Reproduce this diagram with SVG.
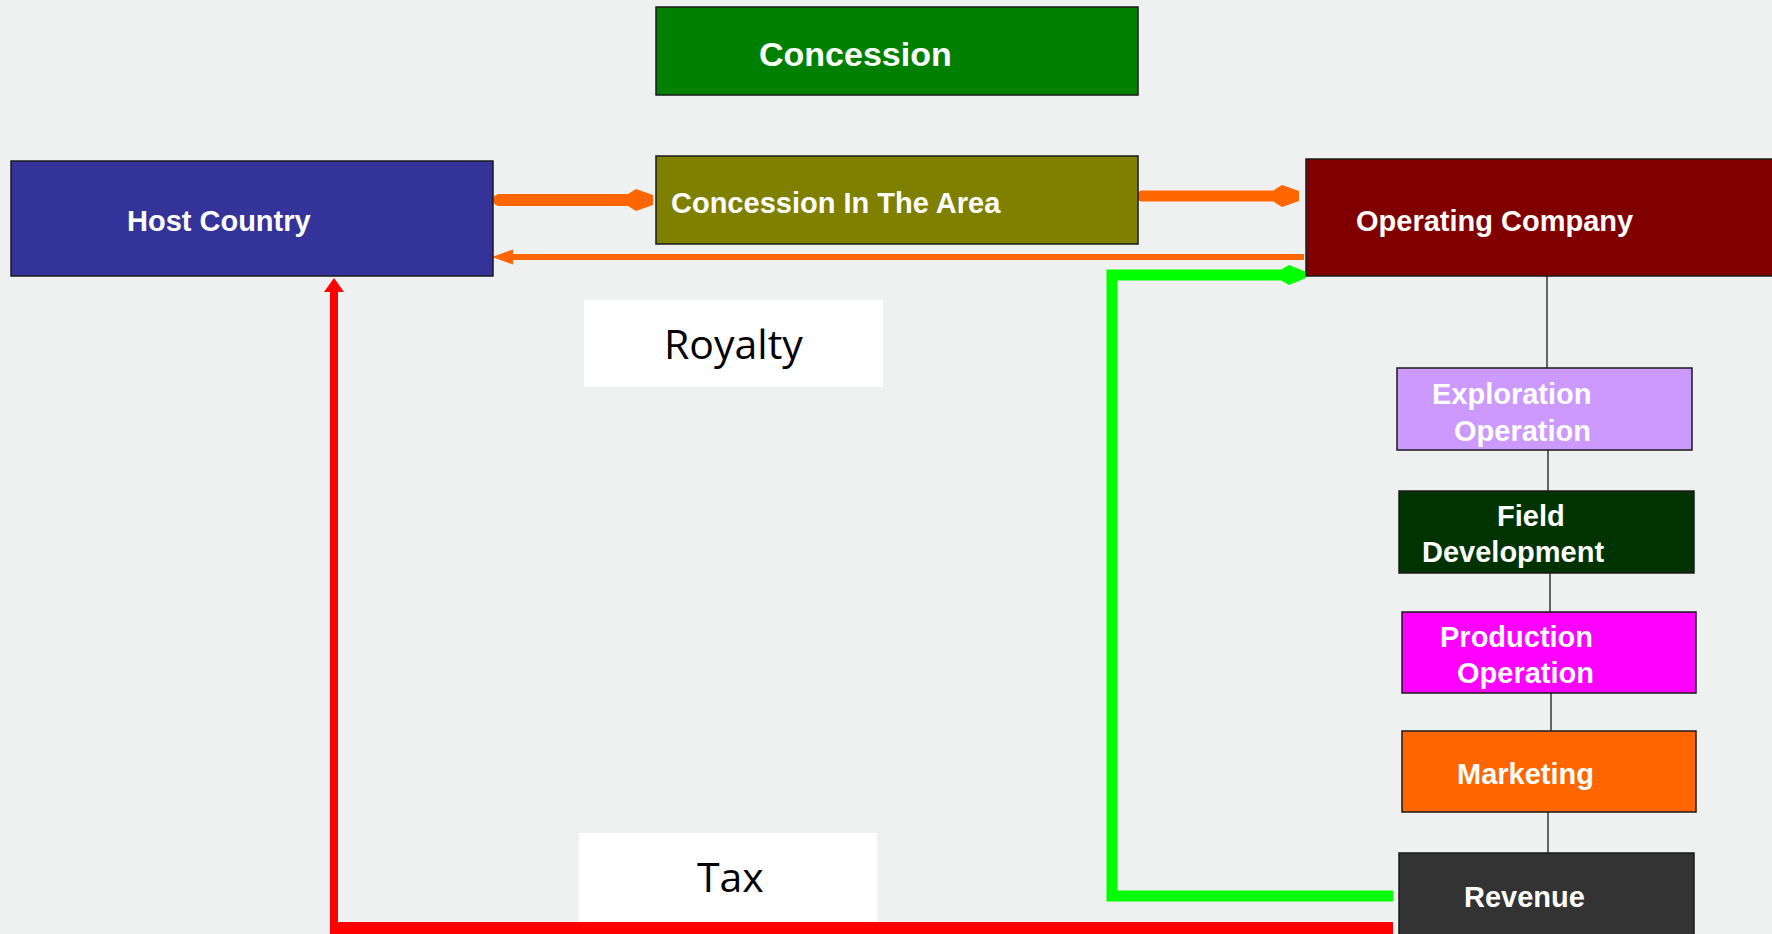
<svg xmlns="http://www.w3.org/2000/svg" width="1772" height="934" viewBox="0 0 1772 934">
<style>
.box{stroke:#1a1a1a;stroke-width:1.5}
.lbl{font-family:"Liberation Sans",Arial,sans-serif;font-weight:bold;font-size:29px;fill:#ffffff}
.note{font-family:"Open Sans","Noto Sans",sans-serif;font-size:41px;fill:#000000}
.tree{stroke:#1a1a1a;stroke-width:1.3;fill:none}
</style>
<defs>
<marker id="headOrange" markerUnits="userSpaceOnUse" markerWidth="26" markerHeight="22" viewBox="0 0 26 22" refX="13" refY="11" orient="auto" overflow="visible">
<path d="M0,5 L8,0 L25,6 L25,16 L8,22 L0,17 Z" fill="#FF6600"/>
</marker>
<marker id="headThin" markerUnits="userSpaceOnUse" markerWidth="21" markerHeight="16" viewBox="0 0 21 16" refX="13" refY="8" orient="auto" overflow="visible">
<path d="M0,0.5 L21,8 L0,15.5 Z" fill="#FF6600"/>
</marker>
<marker id="headGreen" markerUnits="userSpaceOnUse" markerWidth="24" markerHeight="20" viewBox="0 0 24 20" refX="10" refY="10" orient="auto" overflow="visible">
<path d="M0,4 L7,0 L23,6.5 L23,13.5 L7,20 L0,16 Z" fill="#00FF00"/>
</marker>
<marker id="headRed" markerUnits="userSpaceOnUse" markerWidth="14" markerHeight="20" viewBox="0 0 14 20" refX="2" refY="10" orient="auto" overflow="visible">
<path d="M0,0 L14,10 L0,20 Z" fill="#FF0000"/>
</marker>
</defs>
<rect x="0" y="0" width="1772" height="934" fill="#EFF1F1"/>

<g id="connectors">
<path class="tree" d="M1547,276 V368"/>
<path class="tree" d="M1548,450 V491"/>
<path class="tree" d="M1550,573 V612"/>
<path class="tree" d="M1551,693 V731"/>
<path class="tree" d="M1548,812 V853"/>
<path d="M499,200 H641" stroke="#FF6600" stroke-width="12" stroke-linecap="round" fill="none" marker-end="url(#headOrange)"/>
<path d="M1142,196 H1287" stroke="#FF6600" stroke-width="11" stroke-linecap="round" fill="none" marker-end="url(#headOrange)"/>
<path d="M1304,257 H500" stroke="#FF6600" stroke-width="6" fill="none" marker-end="url(#headThin)"/>
<path d="M1393,896 H1112 V275 H1292" stroke="#00FF00" stroke-width="11" stroke-linejoin="miter" fill="none" marker-end="url(#headGreen)"/>
<path d="M330,928 H1393" stroke="#FF0000" stroke-width="12" fill="none"/>
<path d="M334,932 V290" stroke="#FF0000" stroke-width="8" fill="none" marker-end="url(#headRed)"/>
</g>

<g id="concession">
<rect class="box" x="656" y="7" width="482" height="88" fill="#008000"/>
<text class="lbl" x="759" y="66" style="font-size:34px">Concession</text>
</g>
<g id="host-country">
<rect class="box" x="11" y="161" width="482" height="115" fill="#333399"/>
<text class="lbl" x="127" y="231">Host Country</text>
</g>
<g id="concession-area">
<rect class="box" x="656" y="156" width="482" height="88" fill="#808000"/>
<text class="lbl" x="671" y="213">Concession In The Area</text>
</g>
<g id="operating-company">
<rect class="box" x="1306" y="159" width="480" height="117" fill="#800000"/>
<text class="lbl" x="1356" y="231">Operating Company</text>
</g>
<g id="royalty">
<rect x="584" y="300" width="299" height="87" fill="#FFFFFF"/>
<text class="note" x="664" y="359">Royalty</text>
</g>
<g id="tax">
<rect x="579" y="833" width="298" height="89" fill="#FFFFFF"/>
<text class="note" x="697" y="892">Tax</text>
</g>
<g id="exploration">
<rect class="box" x="1397" y="368" width="295" height="82" fill="#CC99FF"/>
<text class="lbl" x="1432" y="404">Exploration</text>
<text class="lbl" x="1454" y="441">Operation</text>
</g>
<g id="field-development">
<rect class="box" x="1399" y="491" width="295" height="82" fill="#003300"/>
<text class="lbl" x="1497" y="526">Field</text>
<text class="lbl" x="1422" y="562">Development</text>
</g>
<g id="production">
<rect class="box" x="1402" y="612" width="294" height="81" fill="#FF00FF"/>
<text class="lbl" x="1440" y="647">Production</text>
<text class="lbl" x="1457" y="683">Operation</text>
</g>
<g id="marketing">
<rect class="box" x="1402" y="731" width="294" height="81" fill="#FF6600"/>
<text class="lbl" x="1457" y="784">Marketing</text>
</g>
<g id="revenue">
<rect class="box" x="1399" y="853" width="295" height="90" fill="#333333"/>
<text class="lbl" x="1464" y="907">Revenue</text>
</g>
</svg>
